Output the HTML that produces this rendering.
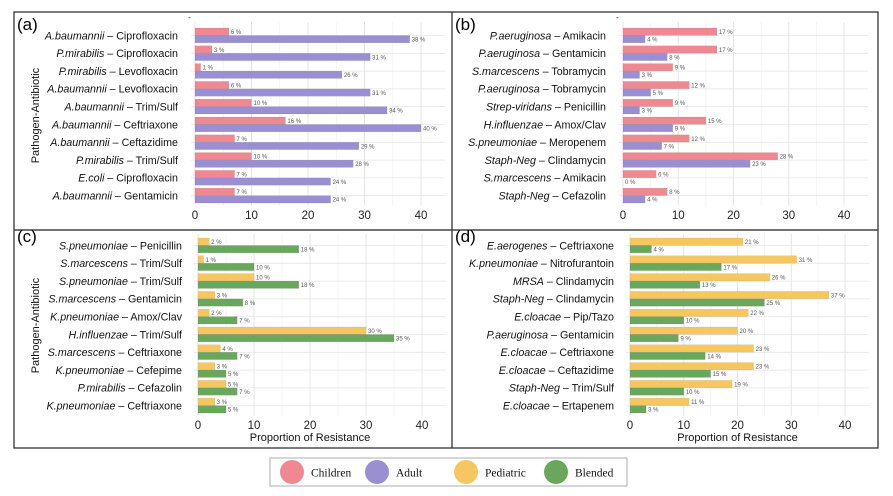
<!DOCTYPE html><html><head><meta charset="utf-8"><style>body{margin:0;background:#fff}svg{display:block}</style></head><body>
<svg id="s" width="893" height="496" xmlns="http://www.w3.org/2000/svg" font-family="Liberation Sans, sans-serif"></svg>
<script>
const C={ch:'#f08892',ad:'#9b8fd3',pe:'#f7c75f',bl:'#69a75d'};
const P=[
{tag:'(a)',lx:178,x0:195,x1:421,y0:35.5,top:22,tick:219,c1:C.ch,c2:C.ad,yl:true,xl:false,
rows:[['A.baumannii','Ciprofloxacin',6,38],['P.mirabilis','Ciprofloxacin',3,31],['P.mirabilis','Levofloxacin',1,26],['A.baumannii','Levofloxacin',6,31],['A.baumannii','Trim/Sulf',10,34],['A.baumannii','Ceftriaxone',16,40],['A.baumannii','Ceftazidime',7,29],['P.mirabilis','Trim/Sulf',10,28],['E.coli','Ciprofloxacin',7,24],['A.baumannii','Gentamicin',7,24]]},
{tag:'(b)',lx:606,x0:623,x1:844,y0:35.5,top:22,tick:219,c1:C.ch,c2:C.ad,yl:false,xl:false,
rows:[['P.aeruginosa','Amikacin',17,4],['P.aeruginosa','Gentamicin',17,8],['S.marcescens','Tobramycin',9,3],['P.aeruginosa','Tobramycin',12,5],['Strep-viridans','Penicillin',9,3],['H.influenzae','Amox/Clav',15,9],['S.pneumoniae','Meropenem',12,7],['Staph-Neg','Clindamycin',28,23],['S.marcescens','Amikacin',6,0],['Staph-Neg','Cefazolin',8,4]]},
{tag:'(c)',lx:182,x0:198,x1:422,y0:245.5,top:234,tick:429,c1:C.pe,c2:C.bl,yl:true,xl:true,
rows:[['S.pneumoniae','Penicillin',2,18],['S.marcescens','Trim/Sulf',1,10],['S.pneumoniae','Trim/Sulf',10,18],['S.marcescens','Gentamicin',3,8],['K.pneumoniae','Amox/Clav',2,7],['H.influenzae','Trim/Sulf',30,35],['S.marcescens','Ceftriaxone',4,7],['K.pneumoniae','Cefepime',3,5],['P.mirabilis','Cefazolin',5,7],['K.pneumoniae','Ceftriaxone',3,5]]},
{tag:'(d)',lx:614,x0:630,x1:845,y0:245.5,top:234,tick:429,c1:C.pe,c2:C.bl,yl:false,xl:true,
rows:[['E.aerogenes','Ceftriaxone',21,4],['K.pneumoniae','Nitrofurantoin',31,17],['MRSA','Clindamycin',26,13],['Staph-Neg','Clindamycin',37,25],['E.cloacae','Pip/Tazo',22,10],['P.aeruginosa','Gentamicin',20,9],['E.cloacae','Ceftriaxone',23,14],['E.cloacae','Ceftazidime',23,15],['Staph-Neg','Trim/Sulf',19,10],['E.cloacae','Ertapenem',11,3]]}];
let h='';
h+='<rect x="14" y="12" width="864" height="436" fill="none" stroke="#222" stroke-width="1.2"/>';
h+='<line x1="452" y1="12" x2="452" y2="448" stroke="#222" stroke-width="1.2"/><line x1="14" y1="230" x2="878" y2="230" stroke="#444" stroke-width="1.5"/>';
P.forEach(p=>{
 const sc=(p.x1-p.x0)/40, sp=17.8, ymax=p.y0+9*sp+10;
 const tx=p.tag=='(a)'||p.tag=='(c)'?17:455;
 h+=`<text x="${tx}" y="${p.top+8}" font-size="17">${p.tag}</text>`;
 for(let v=0;v<=45;v+=5){const x=p.x0+v*sc;if(x>p.x1+25)break;h+=`<line x1="${x}" y1="${p.top}" x2="${x}" y2="${ymax}" stroke="${v%10?'#f0f0f0':'#e2e2e2'}" stroke-width="${v%10?0.6:0.9}"/>`;}
 p.rows.forEach((r,i)=>{const y=p.y0+i*sp;h+=`<line x1="${p.x0-4}" y1="${y}" x2="${p.x1+24}" y2="${y}" stroke="#e6e6e6" stroke-width="0.8"/>`;});
 p.rows.forEach((r,i)=>{const y=p.y0+i*sp;
  h+=`<text x="${p.lx}" y="${y+3.8}" font-size="10.7" text-anchor="end" fill="#111"><tspan font-style="italic">${r[0]}</tspan> – ${r[1]}</text>`;
  [[r[2],p.c1,y-7.5],[r[3],p.c2,y]].forEach(([v,c,yy])=>{const w=v*sc;
   if(w>0)h+=`<rect x="${p.x0}" y="${yy}" width="${w}" height="7.3" fill="${c}" stroke="rgba(0,0,0,0.15)" stroke-width="0.4"/>`;
   h+=`<text x="${p.x0+w+2}" y="${yy+6}" font-size="6" fill="#555">${v} %</text>`;});
 });
 for(let v=0;v<=40;v+=10)h+=`<text x="${p.x0+v*sc}" y="${p.tick}" font-size="11.5" text-anchor="middle" fill="#222">${v}</text>`;
 if(p.xl)h+=`<text x="${(p.x0+p.x1)/2}" y="441" font-size="11" text-anchor="middle" fill="#111">Proportion of Resistance</text>`;
 if(p.yl){const cy=(p.y0+p.y0+9*sp)/2;h+=`<text transform="translate(39,${cy}) rotate(-90)" font-size="11" text-anchor="middle" fill="#111">Pathogen-Antibiotic</text>`;}
 if(p.tag=='(a)'||p.tag=='(b)')h+=`<text x="${p.x0-7}" y="20" font-size="8">-</text>`;
});
h+='<rect x="270" y="458" width="357" height="28" fill="#fff" stroke="#999" stroke-width="0.8"/>';
[[292,C.ch,'Children'],[377,C.ad,'Adult'],[466,C.pe,'Pediatric'],[556,C.bl,'Blended']].forEach(([x,c,t])=>{
 h+=`<circle cx="${x}" cy="472" r="12" fill="${c}"/><text x="${x+19}" y="476.5" font-size="11.5" font-family="Liberation Serif, serif" fill="#111">${t}</text>`;});
document.getElementById('s').innerHTML=h;
</script>
</body></html>
